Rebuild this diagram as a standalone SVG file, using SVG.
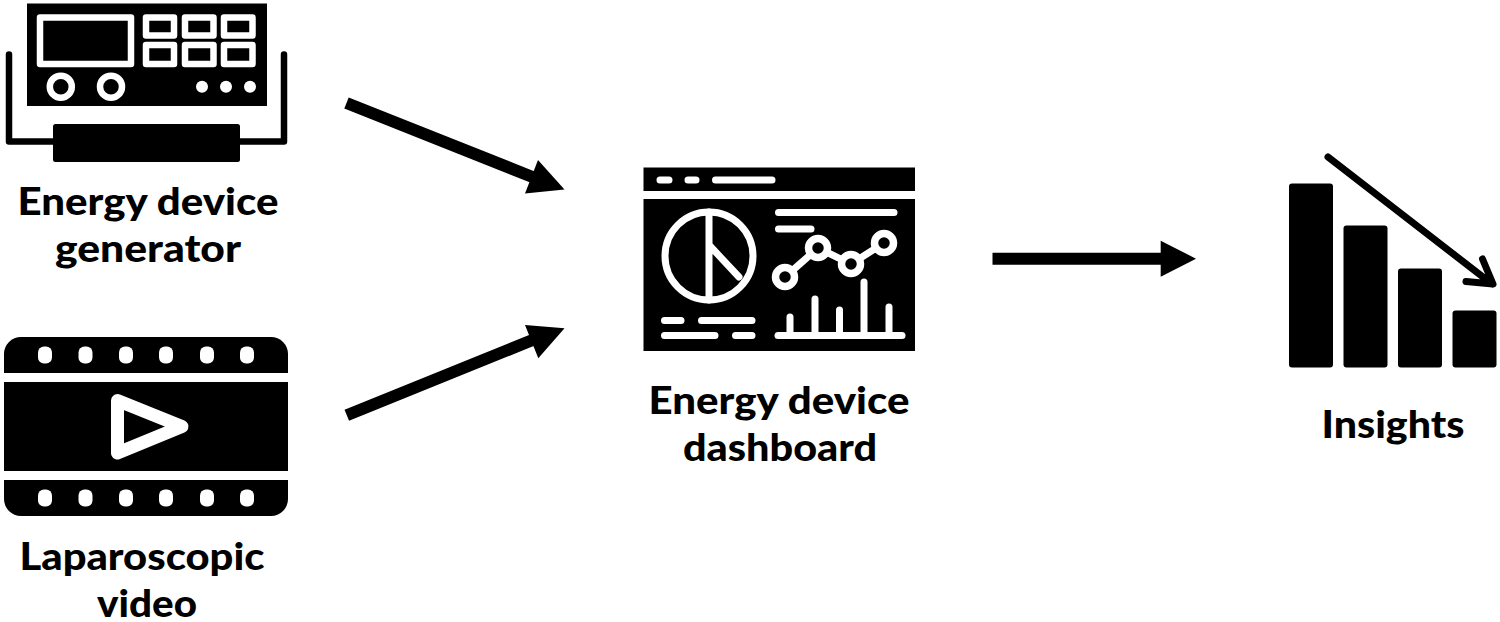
<svg xmlns="http://www.w3.org/2000/svg" width="1500" height="622" viewBox="0 0 1500 622">
<style>
.t{font-family:"Lato","Liberation Sans",sans-serif;font-weight:900;font-size:37px;fill:#000;text-anchor:start}
.w{stroke:#fff;fill:none;stroke-linecap:round;stroke-linejoin:round}
.k{stroke:#000;fill:none;stroke-linecap:round;stroke-linejoin:round}
.conn{stroke:#000;stroke-width:12;fill:none}
</style>
<rect width="1500" height="622" fill="#fff"/>
<g id="generator">
<rect x="27" y="3.5" width="240" height="102.5"/>
<g class="w" stroke-width="6.500">
<rect x="40" y="17.500" width="91" height="46.500"/>
<rect x="146" y="17.500" width="28" height="18"/>
<rect x="185" y="17.500" width="28.500" height="18"/>
<rect x="224" y="17.500" width="28.500" height="18"/>
<rect x="146" y="45" width="28" height="19"/>
<rect x="185" y="45" width="28.500" height="19"/>
<rect x="224" y="45" width="28.500" height="19"/>
<circle cx="60.800" cy="86.700" r="11"/>
<circle cx="111" cy="86.700" r="11"/>
</g>
<circle cx="202" cy="86.700" r="6" fill="#fff"/><circle cx="226" cy="86.700" r="6" fill="#fff"/><circle cx="250" cy="86.700" r="6" fill="#fff"/>
<path class="k" stroke-width="6.500" d="M9 54.500V141.500H284V54.500"/>
<rect x="53" y="124" width="187" height="38" rx="2.500"/>
<text class="t" x="17.500" y="215" textLength="261" lengthAdjust="spacingAndGlyphs">Energy device</text>
<text class="t" x="55" y="262" textLength="186" lengthAdjust="spacingAndGlyphs">generator</text>
</g>
<g id="video">
<path d="M4 373V354A17 17 0 0 1 21 337H271A17 17 0 0 1 288 354V373Z"/>
<rect x="4" y="382" width="284" height="89"/>
<path d="M4 480V499A17 17 0 0 0 21 516H271A17 17 0 0 0 288 499V480Z"/>
<g fill="#fff">
<rect x="38" y="346.500" width="14" height="17" rx="6"/><rect x="78.500" y="346.500" width="14" height="17" rx="6"/><rect x="119" y="346.500" width="14" height="17" rx="6"/><rect x="159" y="346.500" width="14" height="17" rx="6"/><rect x="200" y="346.500" width="14" height="17" rx="6"/><rect x="240" y="346.500" width="14" height="17" rx="6"/>
<rect x="38" y="489.500" width="14" height="17" rx="6"/><rect x="78.500" y="489.500" width="14" height="17" rx="6"/><rect x="119" y="489.500" width="14" height="17" rx="6"/><rect x="159" y="489.500" width="14" height="17" rx="6"/><rect x="200" y="489.500" width="14" height="17" rx="6"/><rect x="240" y="489.500" width="14" height="17" rx="6"/>
</g>
<path class="w" stroke-width="13" d="M117.500 400.500L182 426.500L117.500 453Z"/>
<text class="t" x="19.500" y="570" textLength="245" lengthAdjust="spacingAndGlyphs">Laparoscopic</text>
<text class="t" x="97" y="617" textLength="100" lengthAdjust="spacingAndGlyphs">video</text>
</g>
<g id="dashboard">
<rect x="643.500" y="167.500" width="271.500" height="23.500"/>
<rect x="643.500" y="199" width="271.500" height="152"/>
<g class="w" stroke-width="7">
<path d="M660 180H669M688 180H696M715.500 180H772"/>
<path d="M778.500 212.500H894M778.500 229H811"/>
<circle cx="709" cy="256" r="44"/>
<path d="M709 212V300M710 246L739 277"/>
<path d="M785 277L818 248L851 264L884 243"/>
<path d="M790 335V317M815 335V299M839.500 335V310M864 335V282M889 335V307"/>
<path d="M778 335.500H902"/>
<path d="M664.500 320.500H681M701.500 320.500H752M664.500 335.500H715M735.500 335.500H752"/>
</g>
<g fill="#000" stroke="#fff" stroke-width="7.500">
<circle cx="785" cy="277" r="9.500"/><circle cx="818" cy="248" r="9.500"/><circle cx="851" cy="264" r="9.500"/><circle cx="884" cy="243" r="9.500"/>
</g>
<text class="t" x="648.500" y="413.500" textLength="261" lengthAdjust="spacingAndGlyphs">Energy device</text>
<text class="t" x="683" y="461" textLength="194" lengthAdjust="spacingAndGlyphs">dashboard</text>
</g>
<g id="insights">
<rect x="1289" y="183.500" width="44" height="184" rx="3"/>
<rect x="1343.500" y="225.500" width="44" height="142" rx="3"/>
<rect x="1398" y="268.500" width="44" height="99" rx="3"/>
<rect x="1452.500" y="310.500" width="44" height="57" rx="3"/>
<path class="k" stroke-width="7" d="M1328 157L1492 284M1482.500 259L1493 284L1466 281.500"/>
<text class="t" x="1321.500" y="437.500" textLength="143" lengthAdjust="spacingAndGlyphs">Insights</text>
</g>
<g id="connectors">
<path class="conn" d="M346.500 103L535 178"/><path d="M564.500 189.500L525 193.500L538 160Z"/>
<path class="conn" d="M346.800 415.300L535 339"/><path d="M564.500 328.300L538.300 358.300L525 325Z"/>
<path class="conn" d="M992.500 258.700H1165"/><path d="M1196 258.700L1160.700 240.700V276.700Z"/>
</g>
</svg>
